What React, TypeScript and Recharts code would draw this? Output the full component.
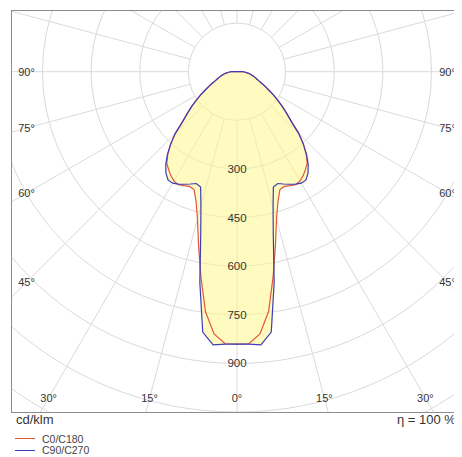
import { RadarChart, Radar, PolarGrid, PolarAngleAxis, PolarRadiusAxis } from "recharts";

// gamma angles (deg from nadir) for the lower hemisphere, one side
const GAMMA = [
  0, 2.5, 5, 7.5, 10, 12.5, 15, 17.5, 20, 22.5, 25, 27.5, 30, 32.5, 35, 37.5, 40, 42.5, 45, 47.5,
  50, 52.5, 55, 57.5, 60, 62.5, 65, 67.5, 70, 72.5, 75, 77.5, 80, 82.5, 85, 87.5, 90, 92.5, 95, 97.5, 100,
];

// cd/klm
const C0_C180 = [
  840, 840, 812, 746, 642, 548, 471, 420, 387, 383, 388, 393, 389, 380, 368, 356, 332, 303, 269, 227,
  200, 176, 153, 133, 113, 98, 84, 72, 64, 58, 52, 46, 41, 34, 28, 23, 18, 12, 7, 3, 0,
];
const C90_C270 = [
  840, 841, 846, 810, 660, 517, 430, 373, 367, 375, 383, 391, 397, 396, 382, 361, 334, 303, 269, 227,
  200, 176, 153, 133, 113, 98, 84, 72, 64, 58, 52, 46, 41, 34, 28, 23, 18, 12, 7, 3, 0,
];

const RING_VALUES = [150, 300, 450, 600, 750, 900, 1050, 1200, 1350];
const LABELLED_RINGS = [300, 450, 600, 750, 900];
const GRID_ANGLES = [0, 15, 30, 45, 60, 75, 90, 105, 120, 135, 150, 165, 180, 195, 210, 225, 240, 255, 270, 285, 300, 315, 330, 345];
const ANGLE_TICKS = [0, 15, 30, 45, 60, 75, 90, 270, 285, 300, 315, 330, 345];

const SERIES = [
  { key: "c0", name: "C0/C180", color: "#e0573c" },
  { key: "c90", name: "C90/C270", color: "#3d3db8" },
];

const PX = 0.3242; // px per cd/klm
const CX = 225;
const CY = 60.7;
const HALF_W = 210.5; // where angle labels sit
const BOTTOM = 326.3;

// full circle table: right side, top, mirrored left side
const rows: any[] = [];
GAMMA.forEach((g, i) => rows.push({ gamma: g, c0: C0_C180[i], c90: C90_C270[i] }));
rows.push({ gamma: 180, c0: 0, c90: 0 });
for (let i = GAMMA.length - 1; i > 0; i--) {
  rows.push({ gamma: 360 - GAMMA[i], c0: C0_C180[i], c90: C90_C270[i] });
}
rows.forEach((r) => (r.env = Math.max(r.c0, r.c90)));

const AngleTick = (props: any) => {
  const g = Number(props.payload?.value);
  if (!ANGLE_TICKS.includes(g)) return null;
  const rad = (g * Math.PI) / 180;
  const dx = Math.sin(rad);
  const dy = Math.cos(rad);
  let t = Infinity;
  if (Math.abs(dx) > 1e-6) t = HALF_W / Math.abs(dx);
  if (dy > 1e-6) t = Math.min(t, BOTTOM / dy);
  const label = g <= 180 ? g : 360 - g;
  return (
    <text
      x={CX + t * dx}
      y={CY + t * dy}
      textAnchor="middle"
      dominantBaseline="central"
      fontSize={11}
      fill="#333"
    >
      {label}°
    </text>
  );
};

const RingTick = (props: any) => {
  const v = Number(props.payload?.value);
  if (!LABELLED_RINGS.includes(v)) return null;
  return (
    <text x={props.x} y={props.y} textAnchor="middle" dominantBaseline="central" fontSize={11.5} fill="#333">
      {v}
    </text>
  );
};

export default function App() {
  return (
    <div
      style={{
        position: "relative",
        width: 446,
        height: 449,
        fontFamily: "'Liberation Sans', Arial, sans-serif",
        color: "#333",
      }}
    >
      <div
        style={{
          position: "absolute",
          left: 3,
          top: 2,
          width: 451,
          height: 403,
          border: "1px solid #8c8c8c",
          borderRight: "none",
          boxSizing: "border-box",
          overflow: "hidden",
        }}
      >
        <RadarChart
          width={450}
          height={401}
          data={rows}
          cx={CX}
          cy={CY}
          innerRadius={RING_VALUES[0] * PX}
          outerRadius={RING_VALUES[RING_VALUES.length - 1] * PX}
          startAngle={-90}
          endAngle={270}
          margin={{ top: 0, right: 0, bottom: 0, left: 0 }}
        >
          <PolarGrid
            gridType="circle"
            stroke="#dadada"
            polarAngles={GRID_ANGLES.map((g) => g - 90)}
            polarRadius={RING_VALUES.map((v) => v * PX)}
          />
          <PolarAngleAxis
            dataKey="gamma"
            type="number"
            domain={[0, 360]}
            ticks={ANGLE_TICKS}
            tickCount={25}
            axisLine={false}
            tickLine={false}
            tick={AngleTick}
          />
          <Radar dataKey="env" stroke="none" fill="#fff58c" fillOpacity={0.55} isAnimationActive={false} />
          {SERIES.map((s) => (
            <Radar
              key={s.key}
              name={s.name}
              dataKey={s.key}
              stroke={s.color}
              strokeWidth={1.2}
              fill="none"
              fillOpacity={0}
              isAnimationActive={false}
            />
          ))}
          <PolarRadiusAxis
            angle={-90}
            domain={[RING_VALUES[0], RING_VALUES[RING_VALUES.length - 1]]}
            allowDataOverflow
            tickCount={RING_VALUES.length}
            axisLine={false}
            tickLine={false}
            tick={RingTick}
          />
        </RadarChart>
      </div>
      <div style={{ position: "absolute", left: 8, top: 405, fontSize: 13, lineHeight: "14px" }}>cd/klm</div>
      <div style={{ position: "absolute", left: 389, top: 405, fontSize: 13, lineHeight: "14px", whiteSpace: "nowrap" }}>
        η = 100 %
      </div>
      <div style={{ position: "absolute", left: 7, top: 425, fontSize: 10.5, color: "#444" }}>
        {SERIES.map((s) => (
          <div key={s.key} style={{ display: "flex", alignItems: "center", height: 11.5 }}>
            <span style={{ display: "inline-block", width: 20, height: 1, background: s.color, marginRight: 7 }} />
            <span>{s.name}</span>
          </div>
        ))}
      </div>
    </div>
  );
}
